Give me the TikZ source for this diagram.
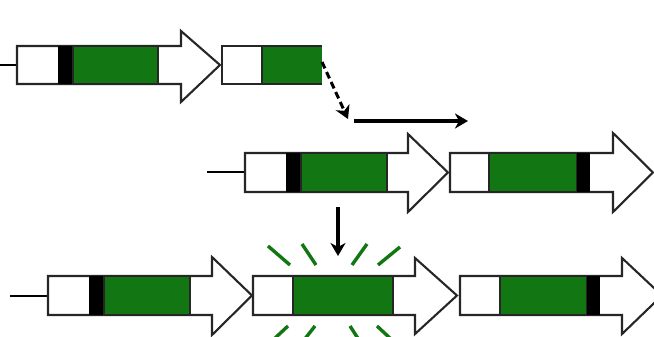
\documentclass[tikz,border=0pt]{standalone}
\usetikzlibrary{arrows.meta}
\definecolor{gfp}{RGB}{18,118,18}
\tikzset{
  geneline/.style={draw=black!85, line width=2.1pt, fill=white, line join=miter},
  greenseg/.style={fill=gfp, draw=black!85, line width=2pt},
  blackseg/.style={fill=black},
  flow/.style={line width=3.4pt, -{Stealth[length=13pt,width=15pt,inset=4pt]}},
  ray/.style={draw=gfp, line width=3.4pt},
  lead/.style={line width=2.6pt}
}
% #1 left, #2 top, #3 bottom, #4 head start, #5 point, #6 tip top, #7 tip bottom
\newcommand\genearrow[7]{%
  \path[geneline] (#1,#2) -- (#4,#2) -- (#4,#6) -- (#5,{(#2+#3)/2}) -- (#4,#7) -- (#4,#3) -- (#1,#3) -- cycle;}
\newcommand\seg[5]{\path[#1] (#2,#3) rectangle (#4,#5);}
\begin{document}
\begin{tikzpicture}[x=1pt,y=-1pt]
\useasboundingbox (0,0) rectangle (654,337);
\clip (0,0) rectangle (654,337);
% ---------- row 1 ----------
\draw[lead] (0,65) -- (17,65);
\genearrow{17}{46}{84}{181}{220}{31}{102}
\seg{blackseg}{58}{46}{73}{84}
\seg{greenseg}{73}{46}{158}{84}
\path[geneline] (222,46) rectangle (262,84);
\path[fill=gfp] (262,46) rectangle (322,84);
\draw[black!85,line width=2pt] (322,84) -- (262,84) -- (262,46) -- (322,46);
\coordinate (r1end) at (322,62);
\coordinate (bend) at (348,119);
\coordinate (tx0) at (354,121);
\coordinate (tx1) at (468,121);
\draw[flow, dash pattern=on 7pt off 4pt, line width=3pt] (r1end) -- (bend);
\draw[flow] (tx0) -- (tx1);
% ---------- row 2 ----------
\draw[lead] (207,172) -- (245,172);
\genearrow{245}{153}{192}{408}{448}{134}{212}
\seg{blackseg}{286}{153}{301}{192}
\seg{greenseg}{301}{153}{387}{192}
\genearrow{450}{153}{192}{613}{653}{133}{212}
\seg{greenseg}{489}{153}{577}{192}
\seg{blackseg}{577}{153}{590}{192}
\coordinate (v0) at (338,207);
\coordinate (v1) at (338,256);
\draw[flow] (v0) -- (v1);
% ---------- row 3 ----------
\draw[lead] (10,296) -- (48,296);
\genearrow{48}{276}{315}{212}{252}{257}{335}
\seg{blackseg}{89}{276}{104}{315}
\seg{greenseg}{104}{276}{190}{315}
\genearrow{253}{276}{315}{415}{457}{258}{334}
\seg{greenseg}{293}{276}{393}{315}
\genearrow{460}{276}{315}{622}{662}{258}{334}
\seg{greenseg}{500}{276}{587}{315}
\seg{blackseg}{587}{276}{600}{315}
% glow rays
\draw[ray] (268,246) -- (290,265);
\draw[ray] (302,244) -- (316,265);
\draw[ray] (352,265) -- (367,244);
\draw[ray] (378,265) -- (400,247);
\draw[ray] (273,340) -- (288,326);
\draw[ray] (304,340) -- (315,326);
\draw[ray] (350,326) -- (359,340);
\draw[ray] (377,326) -- (392,340);
\end{tikzpicture}
\end{document}
